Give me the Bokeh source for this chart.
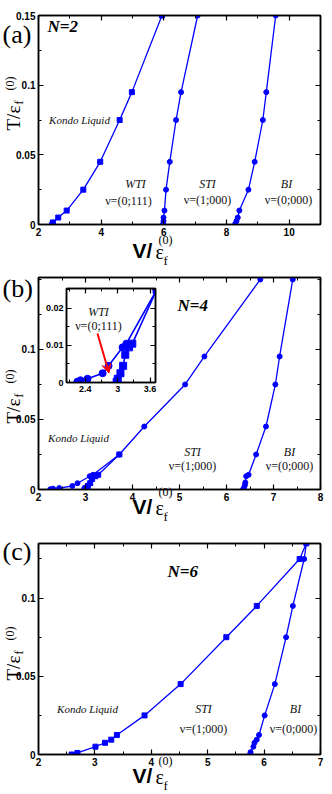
from math import pi
from bokeh.plotting import figure
from bokeh.models import (Range1d, FixedTicker, LinearAxis, Label, Arrow, VeeHead,
                          PrintfTickFormatter, GridBox)
from bokeh.embed import file_html
from bokeh.resources import INLINE

# ---------------- data ----------------
# panel (a)  N=2
a_kl_V = [2.44, 2.46, 2.63, 2.90, 3.43, 3.97, 4.59, 4.98, 5.94]
a_kl_T = [0.0, 0.0015, 0.005, 0.01, 0.025, 0.045, 0.075, 0.095, 0.15]
a_wti_V = [5.98, 5.99, 5.99, 6.02, 6.07, 6.19, 6.39, 6.55, 7.08]
a_wti_T = [0.0005, 0.0025, 0.005, 0.01, 0.025, 0.045, 0.075, 0.095, 0.15]
a_bi_V = [8.28, 8.32, 8.36, 8.41, 8.70, 8.90, 9.16, 9.27, 9.57]
a_bi_T = [0.0005, 0.0025, 0.005, 0.01, 0.025, 0.045, 0.075, 0.095, 0.15]

# panel (b)  N=4
b_kl_V = [2.25, 2.31, 2.44, 2.72, 2.83, 3.09, 3.16, 3.72, 4.25, 5.12, 5.53, 6.72]
b_kl_T = [0.0002, 0.0006, 0.001, 0.0025, 0.0045, 0.0095, 0.0105, 0.025, 0.045, 0.075, 0.095, 0.15]
b_sti_V = [2.98, 3.00, 3.05, 3.10, 3.14, 3.21, 3.27, 3.72]
b_sti_T = [0.0002, 0.001, 0.0025, 0.0045, 0.0075, 0.0095, 0.0105, 0.025]
b_bi_V = [6.35, 6.37, 6.39, 6.40, 6.42, 6.47, 6.63, 6.84, 7.04, 7.13, 7.41]
b_bi_T = [0.0, 0.001, 0.003, 0.005, 0.0095, 0.0105, 0.025, 0.045, 0.075, 0.095, 0.15]

# panel (c)  N=6
c_kl_V = [2.59, 2.69, 3.01, 3.18, 3.29, 3.39, 3.88, 4.52, 5.33, 5.87, 6.63, 6.75]
c_kl_T = [0.0, 0.001, 0.005, 0.0075, 0.0095, 0.0125, 0.025, 0.045, 0.075, 0.095, 0.125, 0.135]
c_bi_V = [5.75, 5.76, 5.81, 5.83, 5.87, 5.91, 6.01, 6.19, 6.39, 6.51, 6.71, 6.75]
c_bi_T = [0.0, 0.0015, 0.005, 0.0075, 0.0095, 0.0125, 0.025, 0.045, 0.075, 0.095, 0.125, 0.135]

# ticks
a_xmaj, a_xmin = [2, 4, 6, 8, 10], [3, 5, 7, 9, 11]
a_ymaj, a_ymin = [0, 0.05, 0.1, 0.15], [0.025, 0.075, 0.125]
b_xmaj, b_xmin = [2, 3, 4, 5, 6, 7, 8], [2.5, 3.5, 4.5, 5.5, 6.5, 7.5]
b_ymaj, b_ymin = [0, 0.05, 0.1], [0.025, 0.075, 0.125, 0.15]
c_xmaj, c_xmin = [2, 3, 4, 5, 6, 7], [2.5, 3.5, 4.5, 5.5, 6.5]
c_ymaj, c_ymin = [0, 0.05, 0.1], [0.025, 0.075, 0.125]
i_xmaj, i_xmin = [2.4, 3.0, 3.6], [2.1, 2.7, 3.3]
i_ymaj, i_ymin = [0, 0.01, 0.02], [0.005, 0.015, 0.025]

BLUE = "#0000ff"
SERIF = "Liberation Serif"
SANS = "Liberation Sans"
INK = "#111111"


def style_axis(ax, major, minor, fs="10px", labels=True):
    ax.ticker = FixedTicker(ticks=major, minor_ticks=minor)
    ax.formatter = PrintfTickFormatter(format="%g")
    ax.major_tick_in = 5
    ax.major_tick_out = 0
    ax.minor_tick_in = 3
    ax.minor_tick_out = 0
    ax.axis_line_width = 1.5
    ax.major_tick_line_width = 1.2
    ax.minor_tick_line_width = 1
    ax.major_label_text_font = SANS
    ax.major_label_text_font_style = "bold"
    ax.major_label_text_font_size = fs
    ax.major_label_text_color = "black"
    ax.major_label_standoff = 3
    if not labels:
        ax.major_label_overrides = {t: "" for t in major}
        ax.major_label_standoff = 0


def make_fig(width, height, xr, yr, bl, br, bt, bb, xt, yt, fs="10px"):
    p = figure(width=width, height=height, x_range=Range1d(*xr), y_range=Range1d(*yr),
               output_backend="svg", toolbar_location=None,
               min_border_left=bl, min_border_right=br, min_border_top=bt, min_border_bottom=bb)
    p.frame_align = False
    p.grid.visible = False
    p.outline_line_color = "black"
    p.outline_line_width = 1.5
    style_axis(p.xaxis[0], xt[0], xt[1], fs)
    style_axis(p.yaxis[0], yt[0], yt[1], fs)
    top = LinearAxis()
    right = LinearAxis()
    style_axis(top, xt[0], xt[1], fs, labels=False)
    style_axis(right, yt[0], yt[1], fs, labels=False)
    p.add_layout(top, "above")
    p.add_layout(right, "right")
    return p


def curve(p, V, T, marker, size=5, lw=1.3):
    p.line(V, T, line_color=BLUE, line_width=lw)
    p.scatter(V, T, marker=marker, size=size, fill_color=BLUE, line_color=BLUE)


# ---------------- panels (page origin at 0,0) ----------------
W = 332
fa = make_fig(W, 270, (2, 11), (0, 0.15), 38, 12, 15, 46, (a_xmaj, a_xmin), (a_ymaj, a_ymin))
curve(fa, a_kl_V, a_kl_T, "square")
curve(fa, a_wti_V, a_wti_T, "circle")
curve(fa, a_bi_V, a_bi_T, "circle")

fb = make_fig(W, 266, (2, 8), (0, 0.1514), 38, 12, 7, 47, (b_xmaj, b_xmin), (b_ymaj, b_ymin))
curve(fb, b_kl_V, b_kl_T, "circle")
curve(fb, b_sti_V, b_sti_T, "square")
curve(fb, b_bi_V, b_bi_T, "circle")

# inset of (b): frame at page x 66..155, y 288..382
I_XR, I_YR = (2.05, 3.70), (0, 0.0254)
fi = make_fig(116, 112, I_XR, I_YR, 24, 3, 4, 14, (i_xmaj, i_xmin), (i_ymaj, i_ymin), fs="9px")
fi.border_fill_alpha = 0
fi.margin = (14, 0, 0, 42)
curve(fi, b_kl_V, b_kl_T, "circle", size=7, lw=1.6)
curve(fi, b_sti_V, b_sti_T, "square", size=7, lw=1.6)


def inset_xy(px, py):
    return (I_XR[0] + (px - 66) / 89 * (I_XR[1] - I_XR[0]),
            I_YR[0] + (382 - py) / 94 * (I_YR[1] - I_YR[0]))


sx, sy = inset_xy(97, 333)
ex, ey = inset_xy(108.5, 372.5)
fi.add_layout(Arrow(x_start=sx, y_start=sy, x_end=ex, y_end=ey, line_color="#ff0000",
                    line_width=2, end=VeeHead(size=9, fill_color="#ff0000", line_color="#ff0000")))

fc = make_fig(W, 258, (2, 7), (0, 0.1349), 38, 12, 7, 40, (c_xmaj, c_xmin), (c_ymaj, c_ymin))
curve(fc, c_kl_V, c_kl_T, "square")
curve(fc, c_bi_V, c_bi_T, "circle")

# ---------------- transparent text layer in page pixel coordinates ----------------
fo = figure(width=W, height=794, x_range=Range1d(0, W), y_range=Range1d(794, 0),
            output_backend="svg", toolbar_location=None, x_axis_location=None,
            y_axis_location=None, title_location=None,
            min_border_left=0, min_border_right=0, min_border_top=0, min_border_bottom=0)
fo.frame_align = False
fo.grid.visible = False
fo.outline_line_color = None
fo.background_fill_alpha = 0
fo.border_fill_alpha = 0


def lab(px, py, text, font=SERIF, size="12px", style="normal", align="center",
        color=INK, angle=0.0):
    fo.add_layout(Label(x=px, y=py, text=text, text_font=font, text_font_size=size,
                        text_font_style=style, text_align=align, text_baseline="middle",
                        text_color=color, angle=angle))


def axis_titles(vy, s, sup=15):
    lab(132, vy, "V/", font=SANS, size="21px", style="bold", align="left", color="black")
    lab(155, vy + 1, "ε", size="20px", align="left", color="black")
    lab(163, vy + 10, "f", size="13px", align="left", color="black")
    lab(158, vy - sup, "(0)", size="12px", align="left", color="black")
    lab(13, s, "T/ε", size="19px", align="left", color="black", angle=pi / 2)
    lab(18.5, s - 26, "f", size="12px", align="left", color="black", angle=pi / 2)
    lab(9, s - 40, "(0)", size="12px", align="left", color="black", angle=pi / 2)


# (a)
lab(79, 119, "Kondo Liquid", size="11px", style="italic")
lab(135, 183, "WTI", style="italic")
lab(128, 200, "ν=(0;111)")
lab(207, 183, "STI", style="italic")
lab(207, 199, "ν=(1;000)")
lab(286, 183, "BI", style="italic")
lab(288, 199, "ν=(0;000)")
lab(47, 26, "N=2", size="17px", style="bold italic", align="left", color="black")
lab(2, 34, "(a)", size="26px", align="left", color="black")
axis_titles(250, 130, sup=11)
# (b)
lab(78, 437, "Kondo Liquid", size="11px", style="italic")
lab(192, 451, "STI", style="italic")
lab(192, 465, "ν=(1;000)")
lab(289, 451, "BI", style="italic")
lab(289, 465, "ν=(0;000)")
lab(177, 305, "N=4", size="17px", style="bold italic", align="left", color="black")
lab(2, 288, "(b)", size="26px", align="left", color="black")
lab(98, 311, "WTI", style="italic")
lab(98, 325, "ν=(0;111)")
axis_titles(506, 423)
# (c)
lab(87, 708, "Kondo Liquid", size="11px", style="italic")
lab(203, 708, "STI", style="italic")
lab(203, 728, "ν=(1;000)")
lab(295, 708, "BI", style="italic")
lab(293, 728, "ν=(0;000)")
lab(167, 571, "N=6", size="17px", style="bold italic", align="left", color="black")
lab(2, 551, "(c)", size="26px", align="left", color="black")
axis_titles(775, 680)

layout = GridBox(children=[(fa, 0, 0), (fb, 1, 0), (fi, 1, 0), (fc, 2, 0), (fo, 0, 0, 3, 1)],
                 spacing=0)

open("out.html", "w").write(file_html(layout, INLINE))
